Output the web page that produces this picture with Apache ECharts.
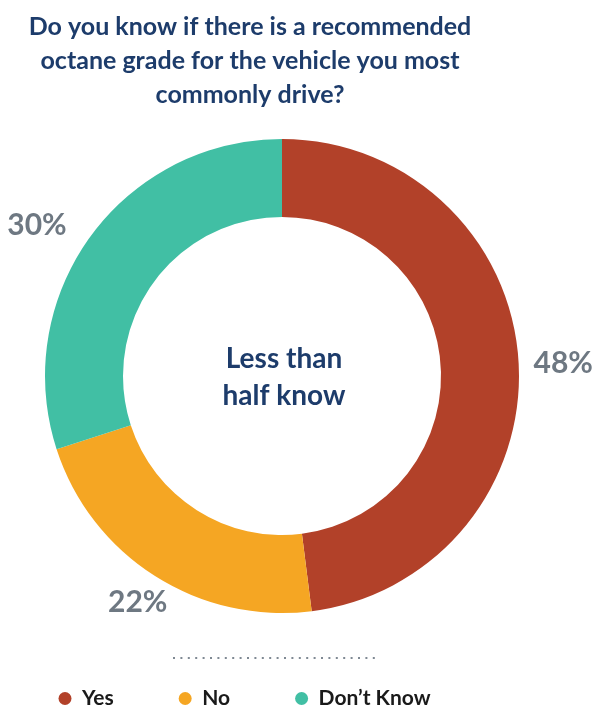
<!DOCTYPE html>
<html>
<head>
<meta charset="utf-8">
<script src="https://cdn.jsdelivr.net/npm/echarts@6/dist/echarts.min.js"></script>
<style>
html,body{margin:0;padding:0;background:#fff;}
#c{width:595px;height:713px;}
</style>
</head>
<body>
<div id="c"></div>
<script>
const titleText = 'Do you know if there is a recommended\noctane grade for the vehicle you most\ncommonly drive?';
const centerText = 'Less than\nhalf know';
const categories = ['Yes', 'No', 'Don\u2019t Know'];
const values = [48, 22, 30];
const colors = ['#b24129', '#f5a623', '#41bfa4'];
const labelOffsets = [[-8, 3], [27, 11], [-4, -1]];

const chart = echarts.init(document.getElementById('c'), null, {renderer: 'canvas'});
const option = {
  backgroundColor: '#ffffff',
  animation: false,
  title: [
    {
      text: titleText,
      left: 245,
      top: 5,
      textAlign: 'center',
      textStyle: {fontFamily: 'Lato', fontWeight: 'bold', fontSize: 25, lineHeight: 34, color: '#1d3c6b'}
    },
    {
      text: centerText,
      left: 279,
      top: 335,
      textAlign: 'center',
      textStyle: {fontFamily: 'Lato', fontWeight: 'bold', fontSize: 28, lineHeight: 37, color: '#1d3c6b'}
    }
  ],
  legend: {
    data: categories,
    left: 53.5,
    top: 683,
    icon: 'circle',
    itemWidth: 24,
    itemHeight: 13,
    itemGap: 65,
    textStyle: {fontFamily: 'Lato', fontWeight: 'bold', fontSize: 21, color: '#1a1a1a'}
  },
  graphic: [
    {
      type: 'line',
      shape: {x1: 173, y1: 658, x2: 380, y2: 658},
      style: {stroke: '#7f8993', lineWidth: 2, lineDash: [2, 5.4]}
    }
  ],
  series: [{
    type: 'pie',
    center: [282, 376],
    radius: [159, 237],
    startAngle: 90,
    clockwise: true,
    avoidLabelOverlap: false,
    color: colors,
    label: {
      show: true,
      position: 'outside',
      formatter: '{d}%',
      fontFamily: 'Lato',
      fontWeight: 'bold',
      fontSize: 30,
      color: '#6e7882'
    },
    labelLine: {show: false, length: 18, length2: 0},
    labelLayout: function (p) {
      const o = labelOffsets[p.dataIndex];
      return {dx: o[0], dy: o[1]};
    },
    emphasis: {disabled: true},
    data: categories.map((c, i) => ({name: c, value: values[i]}))
  }]
};
chart.setOption(option);
</script>
</body>
</html>
